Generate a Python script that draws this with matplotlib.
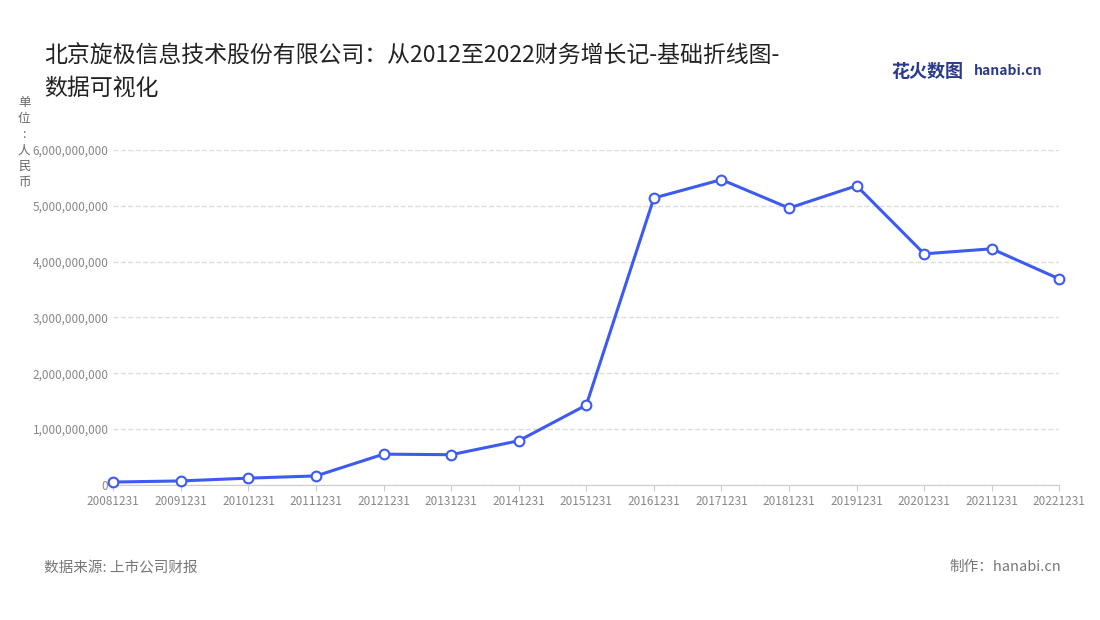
import matplotlib.pyplot as plt
from matplotlib.ticker import FuncFormatter

plt.rcParams['font.family'] = ['Noto Sans CJK SC', 'DejaVu Sans']

dates = ['20081231', '20091231', '20101231', '20111231', '20121231', '20131231',
         '20141231', '20151231', '20161231', '20171231', '20181231', '20191231',
         '20201231', '20211231', '20221231']
revenue = [0.05e9, 0.07e9, 0.12e9, 0.16e9, 0.55e9, 0.54e9, 0.79e9, 1.43e9,
           5.14e9, 5.47e9, 4.96e9, 5.36e9, 4.14e9, 4.23e9, 3.69e9]
line_color = '#3d5af1'

fig = plt.figure(figsize=(11, 6.2), dpi=100)
ax = fig.add_axes([0.103, 0.218, 0.86, 0.54])
x = range(len(dates))
ax.plot(x, revenue, color=line_color, lw=2.2, marker='o', ms=7,
        mfc='white', mec=line_color, mew=1.5, zorder=3, clip_on=False)
ax.set_xlim(0, len(dates) - 1)
ax.set_ylim(0, 6e9)
ax.set_xticks(list(x))
ax.set_xticklabels(dates)
ax.set_yticks([i * 1e9 for i in range(7)])
ax.yaxis.set_major_formatter(FuncFormatter(lambda v, p: f'{int(v):,}'))
ax.tick_params(colors='#888888', labelsize=8.5, length=0)
ax.tick_params(axis='x', length=4, color='#cccccc')
ax.grid(axis='y', ls='--', color='#dddddd', lw=1)
for s in ['top', 'right', 'left']:
    ax.spines[s].set_visible(False)
ax.spines['bottom'].set_color('#cccccc')

fig.text(0.04, 0.91, '北京旋极信息技术股份有限公司：从2012至2022财务增长记-基础折线图-', fontsize=16.5, color='#222222', va='center')
fig.text(0.04, 0.858, '数据可视化', fontsize=16.5, color='#222222', va='center')
fig.text(0.022, 0.845, '单\n位\n:\n人\n民\n币', fontsize=9, color='#666666', va='top', ha='center', linespacing=1.3)
fig.text(0.81, 0.885, '花火数图', fontsize=13, color='#2b3a8c', weight='bold', va='center')
fig.text(0.885, 0.885, 'hanabi.cn', fontsize=10, color='#2b3a8c', weight='bold', va='center')
fig.text(0.04, 0.085, '数据来源: 上市公司财报', fontsize=10.5, color='#777777', va='center')
fig.text(0.965, 0.085, '制作：hanabi.cn', fontsize=10.5, color='#777777', va='center', ha='right')
fig.savefig('out.png')
